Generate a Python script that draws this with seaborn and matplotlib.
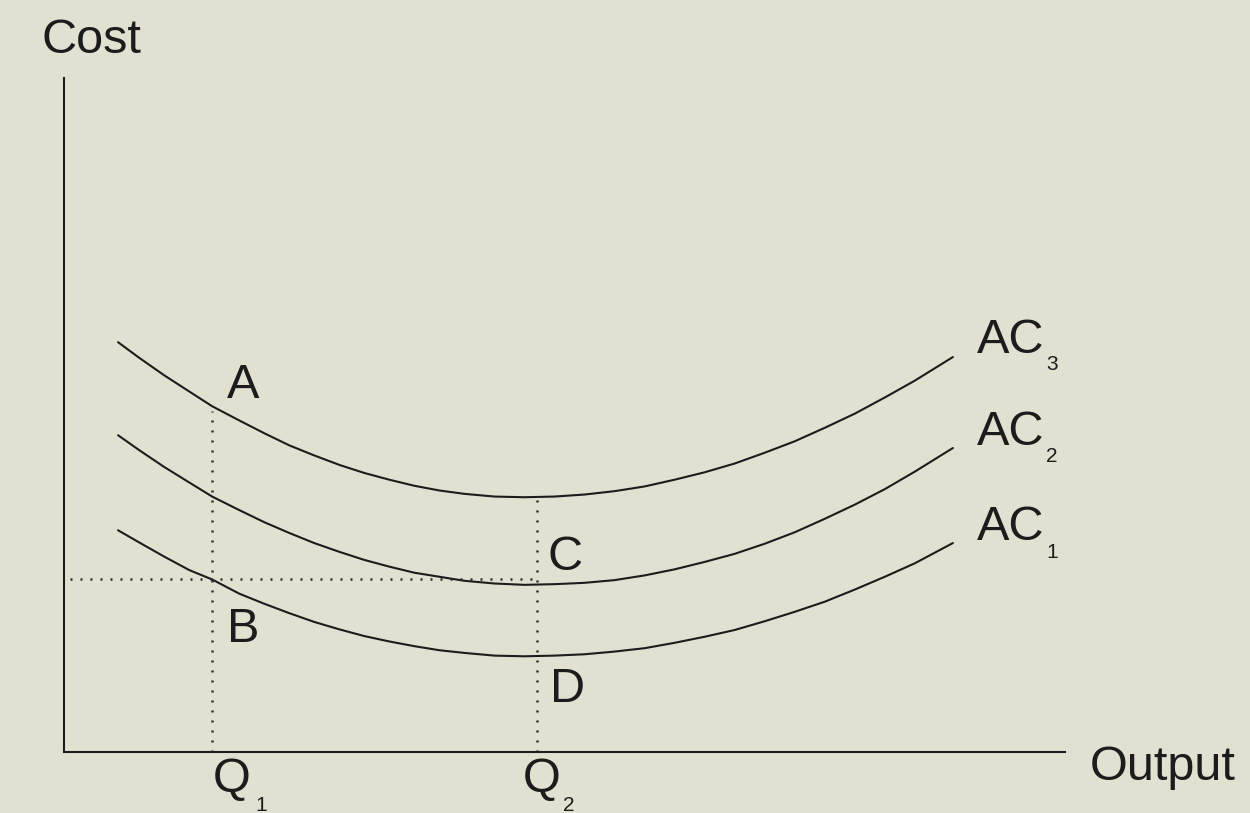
import matplotlib
matplotlib.use("Agg")
import matplotlib.pyplot as plt
import seaborn as sns
import pandas as pd

# ---- data (Output and Cost in arbitrary units 0-100) ----
output = [5.4, 7.5, 10, 12.5, 14.8, 17.5, 20, 22.5, 25, 27.5, 30, 32.5, 35, 37.5, 40, 43,
          46, 49, 52, 55, 58, 61, 64, 67, 70, 73, 76, 79, 82, 85, 88.8]
ac1 = [32.9, 31.1, 29.0, 27.0, 25.6, 23.5, 22.0, 20.6, 19.3, 18.2, 17.2, 16.4, 15.7, 15.1, 14.7, 14.3,
       14.2, 14.3, 14.5, 14.9, 15.4, 16.2, 17.1, 18.1, 19.4, 20.8, 22.3, 24.1, 26.0, 28.0, 31.0]
ac2 = [47.0, 44.8, 42.3, 40.0, 37.9, 35.9, 34.1, 32.5, 31.0, 29.7, 28.5, 27.5, 26.6, 26.0, 25.4, 25.0,
       24.8, 24.9, 25.1, 25.5, 26.2, 27.1, 28.2, 29.4, 30.9, 32.6, 34.6, 36.7, 39.0, 41.6, 45.1]
ac3 = [60.8, 58.5, 55.9, 53.5, 51.3, 49.2, 47.3, 45.5, 44.0, 42.6, 41.4, 40.4, 39.5, 38.8, 38.3, 37.9,
       37.8, 37.9, 38.2, 38.7, 39.4, 40.4, 41.5, 42.8, 44.4, 46.1, 48.1, 50.2, 52.6, 55.1, 58.6]
curve_names = ["AC1", "AC2", "AC3"]

q1, q2 = 14.8, 47.3          # output levels Q1, Q2
q1_top, q2_top = 50.6, 38.2  # where the dotted guides stop (on AC3)
cost_b = 25.6                # dotted horizontal (cost at B)

df = pd.DataFrame({
    "Output": output * 3,
    "Cost": ac1 + ac2 + ac3,
    "curve": [n for n in curve_names for _ in output],
})

# ---- style ----
sns.set_theme(style="white")
BG = "#E2E1D1"
INK = "#1c1c1c"
plt.rcParams["font.family"] = ["Liberation Sans", "DejaVu Sans"]

fig = plt.figure(figsize=(12.5, 8.13), dpi=100, facecolor=BG)
ax = fig.add_axes([64 / 1250, 61 / 813, 1001 / 1250, 674 / 813])
ax.set_facecolor("none")

for name in curve_names:
    sns.lineplot(data=df[df["curve"] == name], x="Output", y="Cost",
                 ax=ax, color=INK, linewidth=1.5, sort=False,
                 estimator=None, legend=False)

dot = dict(color="#2a2a2a", linewidth=1.8, linestyle=(0, (0.8, 3.2)))
ax.plot([q1, q1], [0, q1_top], **dot)
ax.plot([q2, q2], [0, q2_top], **dot)
ax.plot([0.6, q2], [cost_b, cost_b], **dot)

ax.set_xlim(0, 100)
ax.set_ylim(0, 100)
ax.set_xticks([])
ax.set_yticks([])
ax.set_xlabel("")
ax.set_ylabel("")
for s in ["top", "right"]:
    ax.spines[s].set_visible(False)
for s in ["left", "bottom"]:
    ax.spines[s].set_color(INK)
    ax.spines[s].set_linewidth(1.5)

big = dict(fontsize=35, color=INK, ha="left", va="baseline", clip_on=False)
small = dict(fontsize=15, color=INK, ha="left", va="baseline", clip_on=False)

ax.text(16.3, 52.5, "A", **big)
ax.text(16.3, 16.3, "B", **big)
ax.text(48.3, 27.0, "C", **big)
ax.text(48.6, 7.4, "D", **big)

for lab, sub, yb, ys in [("AC", "3", 59.2, 56.7), ("AC", "2", 45.5, 43.0), ("AC", "1", 31.5, 28.8)]:
    ax.text(91.2, yb, lab, **big)
    ax.text(98.1, ys, sub, **small)

ax.text(14.9, -5.9, "Q", **big)
ax.text(19.1, -8.7, "1", **small)
ax.text(45.8, -5.9, "Q", **big)
ax.text(49.9, -8.7, "2", **small)

ax.text(-2.2, 103.7, "Cost", **big)
ax.text(102.5, -4.2, "Output", **big)

fig.savefig("out.png", dpi=100, facecolor=BG)
